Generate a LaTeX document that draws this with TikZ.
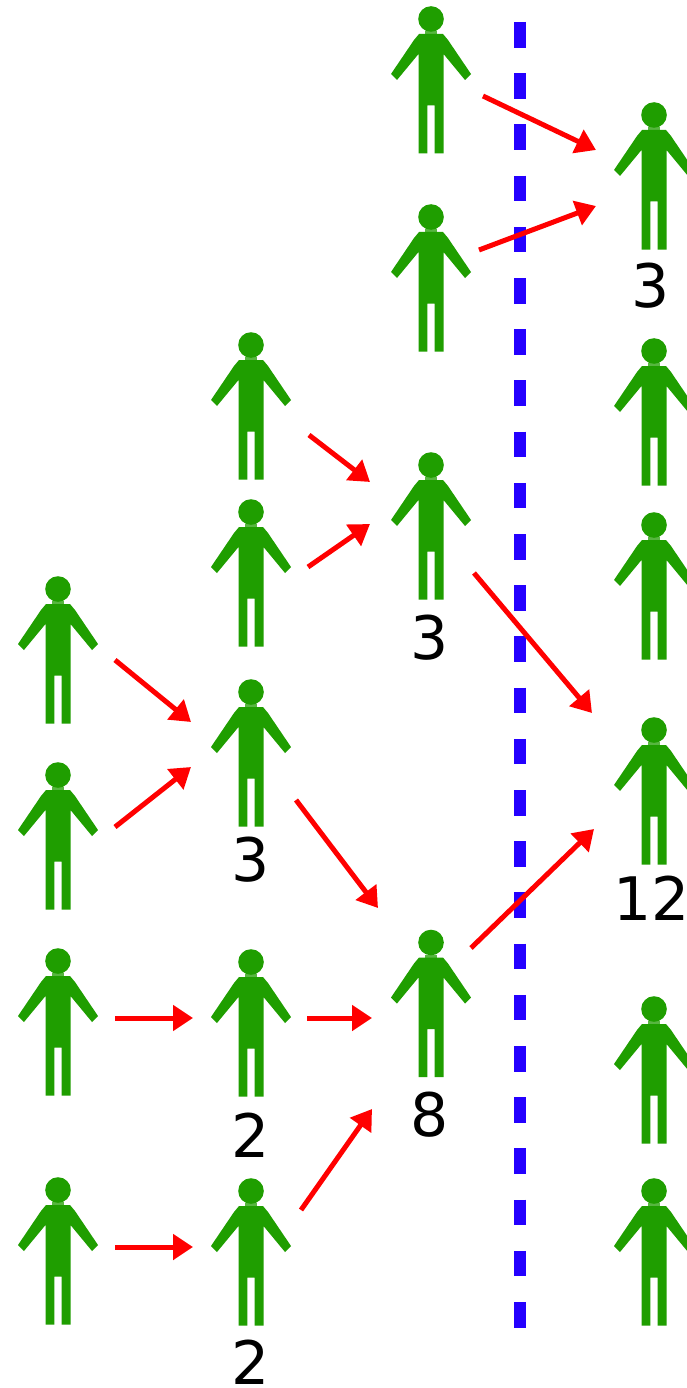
\documentclass[tikz,border=0pt]{standalone}
\usepackage{fontspec}
\setmainfont{DejaVu Sans}
\usetikzlibrary{arrows.meta,calc}
\definecolor{fig}{HTML}{1F9E00}
\definecolor{sep}{HTML}{2400FF}
\tikzset{
  personbox/.style={inner sep=0pt,minimum width=80pt,minimum height=150pt},
  figure/.style={fill=fig,draw=none},
  conn/.style={draw=red,line width=5pt,-{Triangle[length=20pt,width=25pt]},shorten >=0pt},
  count/.style={inner sep=0pt,font=\fontsize{60}{60}\selectfont,text=black},
  divider/.style={draw=sep,line width=12pt,dash pattern=on 25.6pt off 25.6pt}
}
% name, centre x, head centre y
\newcommand{\person}[3]{%
  \node[personbox] (#1) at (#2,#3+60) {};
  \begin{scope}[shift={(#2,#3)}]
    \fill[figure] (0,0) circle (12.8);
    \fill[figure] (-12,15) -- (12,15) -- (17,21) -- (40,55) -- (34,61) -- (12.5,35) -- (12.5,134.5)
      -- (3.6,134.5) -- (3.6,86.5) -- (-3.6,86.5) -- (-3.6,134.5) -- (-12.5,134.5) -- (-12.5,35)
      -- (-34,61) -- (-40,55) -- (-17,21) -- cycle;
    \fill[figure,opacity=.75] (-6,12) rectangle (6,15);
  \end{scope}
}
% from person, offset, to person, offset
\newcommand{\link}[4]{\draw[conn] ($(#1)+(#2)$) -- ($(#3)+(#4)$);}
\begin{document}
\begin{tikzpicture}[x=1pt,y=-1pt]
\clip (0,0) rectangle (687,1388);
\fill[white] (0,0) rectangle (687,1388);
\coordinate (divtop) at (520,22);
\coordinate (divbot) at (520,1329);
\draw[divider] (divtop) -- (divbot);
\person{a1}{58}{589}
\person{a2}{58}{775}
\person{a3}{58}{961}
\person{a4}{58}{1190}
\person{b1}{251}{345}
\person{b2}{251}{512}
\person{b3}{251}{692}
\person{b4}{251}{962}
\person{b5}{251}{1191}
\person{c1}{431}{19}
\person{c2}{431}{217}
\person{c3}{431}{465}
\person{c4}{431}{942.5}
\person{d1}{654}{115}
\person{d2}{654}{351}
\person{d3}{654}{525}
\person{d4}{654}{730}
\person{d5}{654}{1009}
\person{d6}{654}{1191}
% connectors: offsets are measured from each person's box centre
\link{c1}{52,17}{d1}{-58,-25}
\link{c2}{48,-27}{d1}{-58,31}
\link{b1}{58,30}{c3}{-61,-43}
\link{b2}{57,-5}{c3}{-61,-1}
\link{c3}{43,48}{d4}{-62,-77}
\link{a1}{57,11}{b3}{-60,-30}
\link{a2}{57,-8}{b3}{-60,15}
\link{b3}{45,48}{c4}{-53,-94.5}
\link{a3}{57,-3}{b4}{-58,-4}
\link{b4}{56,-4}{c4}{-59,15.5}
\link{a4}{57,-3}{b5}{-58,-4}
\link{b5}{50,-41}{c4}{-59,106.5}
\link{c4}{40,-54.5}{d4}{-60,39}
\node[count] (n1) at (651,286) {3};
\node[count] (n2) at (430,638) {3};
\node[count] (n3) at (251,860) {3};
\node[count] (n4) at (251,1135) {2};
\node[count] (n5) at (251,1362) {2};
\node[count] (n6) at (430,1115) {8};
\node[count] (n7) at (651.5,898) {12};
\end{tikzpicture}
\end{document}
